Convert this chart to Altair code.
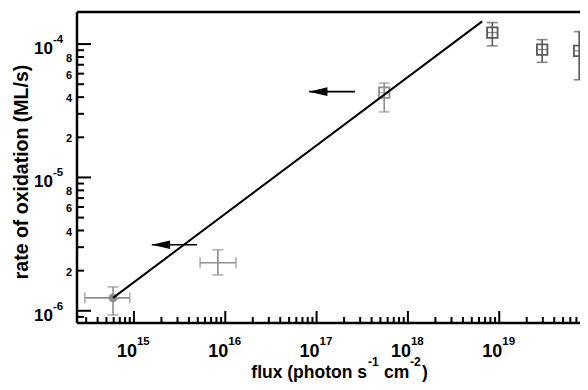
import altair as alt
import pandas as pd

# ---- data ----
flux = [5.9e14, 8.3e15, 5.5e17, 8.4e18, 2.95e19, 7.5e19]
rate = [1.25e-6, 2.29e-6, 4.33e-5, 1.22e-4, 9.1e-5, 8.9e-5]
rate_lo = [9.3e-7, 1.86e-6, 3.1e-5, 9.7e-5, 7.3e-5, 5.4e-5]
rate_hi = [1.51e-6, 2.87e-6, 5.1e-5, 1.45e-4, 1.08e-4, 1.24e-4]
marker = ["circle", "none", "square", "square", "square", "square"]
dataset = ["A", "A", "A", "B", "B", "B"]

# horizontal error bars (only the two low-flux points have them)
xerr_flux_lo = [2.9e14, 5.3e15]
xerr_flux_hi = [9.0e14, 1.31e16]
xerr_rate = [1.25e-6, 2.29e-6]
xerr_set = ["A", "A"]

fit_flux = [5.9e14, 6.5e18]
fit_rate = [1.25e-6, 1.48e-4]

arrow_rate = [3.13e-6, 4.4e-5]
arrow_tip = [1.57e15, 8.3e16]
arrow_tail = [4.9e15, 2.63e17]

x_major = [1e15, 1e16, 1e17, 1e18, 1e19]
x_exp = ["15", "16", "17", "18", "19"]
y_major = [1e-6, 1e-5, 1e-4]
y_exp = ["-6", "-5", "-4"]
y_minor_labeled = [2e-6, 4e-6, 6e-6, 8e-6, 2e-5, 4e-5, 6e-5, 8e-5]
y_minor_text = ["2", "4", "6", "8", "2", "4", "6", "8"]

y_title = "rate of oxidation (ML/s)"
x_title_parts = ["flux (photon s", "-1", "cm", "-2", ")"]

x_domain = [2.38e14, 7.66e19]
y_domain = [8.1e-7, 1.74e-4]

x_minor = [k * 10.0 ** n for n in range(14, 20) for k in range(2, 10)
           if x_domain[0] <= k * 10.0 ** n <= x_domain[1]]
y_minor = [k * 10.0 ** n for n in range(-7, -3) for k in range(2, 10)
           if y_domain[0] <= k * 10.0 ** n <= y_domain[1]]

W, H = 503, 311
FONT = "Liberation Sans"

xs = alt.Scale(type="log", domain=x_domain, nice=False)
ys = alt.Scale(type="log", domain=y_domain, nice=False)
col = alt.Color("set:N", scale=alt.Scale(domain=["A", "B"], range=["#8e8e8e", "#5a5a5a"]), legend=None)

pts = pd.DataFrame({"flux": flux, "rate": rate, "lo": rate_lo, "hi": rate_hi,
                    "marker": marker, "set": dataset})
xerr = pd.DataFrame({"lo": xerr_flux_lo, "hi": xerr_flux_hi, "rate": xerr_rate, "set": xerr_set})
fit = pd.DataFrame({"flux": fit_flux, "rate": fit_rate})
arrows = pd.DataFrame({"rate": arrow_rate, "tip": arrow_tip, "tail": arrow_tail})
one = pd.DataFrame({"a": [0]})


def X(f):
    return alt.X(f, type="quantitative", scale=xs, axis=None)


def Y(f):
    return alt.Y(f, type="quantitative", scale=ys, axis=None)


# error bars
vbar = alt.Chart(pts).mark_rule(strokeWidth=1.6).encode(x=X("flux"), y=Y("lo"), y2="hi", color=col)
vcap = alt.Chart(pts).transform_fold(["lo", "hi"], as_=["end", "val"]).mark_tick(
    orient="horizontal", size=11, thickness=1.6).encode(x=X("flux"), y=Y("val"), color=col)
hbar = alt.Chart(xerr).mark_rule(strokeWidth=1.6).encode(x=X("lo"), x2="hi", y=Y("rate"), color=col)
hcap = alt.Chart(xerr).transform_fold(["lo", "hi"], as_=["end", "val"]).mark_tick(
    orient="vertical", size=11, thickness=1.6).encode(x=X("val"), y=Y("rate"), color=col)

circles = alt.Chart(pts).transform_filter("datum.marker == 'circle'").mark_point(
    shape="circle", filled=True, size=80, opacity=1).encode(x=X("flux"), y=Y("rate"), color=col)
squares = alt.Chart(pts).transform_filter("datum.marker == 'square'").mark_point(
    shape="square", filled=False, size=110, strokeWidth=1.8, opacity=1).encode(x=X("flux"), y=Y("rate"), color=col)
square_mid = alt.Chart(pts).transform_filter("datum.marker == 'square'").mark_tick(
    orient="horizontal", size=10, thickness=1.4).encode(x=X("flux"), y=Y("rate"), color=col)

fitline = alt.Chart(fit).mark_line(color="black", strokeWidth=2).encode(x=X("flux"), y=Y("rate"))

shaft = alt.Chart(arrows).mark_rule(color="black", strokeWidth=1.6).encode(x=X("tip"), x2="tail", y=Y("rate"))
head = alt.Chart(arrows).mark_point(shape="M-1,0L1,-0.47L1,0.47Z", filled=True, size=340,
                                    color="black", opacity=1, xOffset=9).encode(x=X("tip"), y=Y("rate"))

# frame
frame_top = alt.Chart(one).mark_rule(color="black", strokeWidth=2.5).encode(
    x=alt.value(0), x2=alt.value(W), y=alt.value(0))
frame_left = alt.Chart(one).mark_rule(color="black", strokeWidth=2.5).encode(
    x=alt.value(0), y=alt.value(0), y2=alt.value(H))
frame_bottom = alt.Chart(one).mark_rule(color="black", strokeWidth=2.5).encode(
    x=alt.value(0), x2=alt.value(W), y=alt.value(H))

# inward ticks
xmaj_df = pd.DataFrame({"v": x_major, "exp": x_exp})
xmin_df = pd.DataFrame({"v": x_minor})
ymaj_df = pd.DataFrame({"v": y_major, "exp": y_exp})
ymin_df = pd.DataFrame({"v": y_minor})
ylab_df = pd.DataFrame({"v": y_minor_labeled, "t": y_minor_text})

xt_major = alt.Chart(xmaj_df).mark_rule(color="black", strokeWidth=2).encode(
    x=X("v"), y=alt.value(H), y2=alt.value(H - 12))
xt_minor = alt.Chart(xmin_df).mark_rule(color="black", strokeWidth=2).encode(
    x=X("v"), y=alt.value(H), y2=alt.value(H - 6))
yt_major = alt.Chart(ymaj_df).mark_rule(color="black", strokeWidth=2).encode(
    y=Y("v"), x=alt.value(0), x2=alt.value(14))
yt_minor = alt.Chart(ymin_df).mark_rule(color="black", strokeWidth=2).encode(
    y=Y("v"), x=alt.value(0), x2=alt.value(7))

# tick labels
xl_base = alt.Chart(xmaj_df).mark_text(font=FONT, fontWeight="bold", fontSize=18, align="right",
                                       baseline="alphabetic", dx=3, color="black").encode(
    x=X("v"), y=alt.value(H + 34), text=alt.value("10"))
xl_exp = alt.Chart(xmaj_df).mark_text(font=FONT, fontWeight="bold", fontSize=11.5, align="left",
                                      baseline="alphabetic", dx=3, color="black").encode(
    x=X("v"), y=alt.value(H + 22), text="exp:N")
yl_base = alt.Chart(ymaj_df).mark_text(font=FONT, fontWeight="bold", fontSize=17, align="right",
                                       baseline="middle", dy=5, color="black").encode(
    y=Y("v"), x=alt.value(-24), text=alt.value("10"))
yl_exp = alt.Chart(ymaj_df).mark_text(font=FONT, fontWeight="bold", fontSize=11.5, align="left",
                                      baseline="middle", dy=-4, color="black").encode(
    y=Y("v"), x=alt.value(-24), text="exp:N")
yl_minor = alt.Chart(ylab_df).mark_text(font=FONT, fontWeight="bold", fontSize=11, align="right",
                                        baseline="middle", dy=2, color="black").encode(
    y=Y("v"), x=alt.value(-5), text="t:N")

# axis titles
ytitle = alt.Chart(pd.DataFrame({"t": [y_title]})).mark_text(
    font=FONT, fontWeight="bold", fontSize=19.5, angle=270, align="center", baseline="middle",
    color="black").encode(x=alt.value(-55), y=alt.value(160), text="t:N")

# x title pieces: (anchor x, baseline y, align, font size) for each piece
title_layout = [(290, 365.5, "right", 17.5), (291, 354, "left", 12), (307, 365.5, "left", 17.5),
                (333, 354, "left", 12), (345, 365.5, "left", 17.5)]
xtitle_layers = []
for txt, (px, py, al, fs) in zip(x_title_parts, title_layout):
    xtitle_layers.append(
        alt.Chart(pd.DataFrame({"t": [txt]})).mark_text(
            font=FONT, fontWeight="bold", fontSize=fs, baseline="alphabetic", align=al,
            color="black").encode(x=alt.value(px), y=alt.value(py), text="t:N"))

chart = alt.layer(
    vbar, vcap, hbar, hcap, circles, squares, square_mid, fitline, shaft, head,
    xt_minor, xt_major, yt_minor, yt_major,
    frame_top, frame_left, frame_bottom,
    xl_base, xl_exp, yl_base, yl_exp, yl_minor, ytitle, *xtitle_layers,
).properties(
    width=W, height=H, autosize="none",
    padding={"left": 69, "top": 4, "right": 0, "bottom": 59},
).configure_view(stroke=None).configure(background="white")

chart.save("out.html", embed_options={"renderer": "svg", "actions": False})
